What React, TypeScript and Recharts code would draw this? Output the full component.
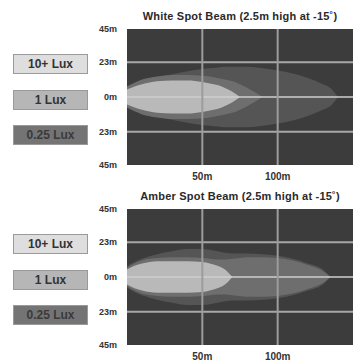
import React from "react";
import {
  Area,
  CartesianGrid,
  ComposedChart,
  ReferenceLine,
  XAxis,
  YAxis,
} from "recharts";

// distance from the lamp (m) and half-width of each lux contour (m)
const distances = [0, 5, 10, 20, 30, 40, 50, 55, 60, 65, 70, 75, 80, 90, 100, 110, 120, 130, 135, 140, 145, 150];

const whiteQuarterLux = [6, 8, 10, 13, 15, 17, 18.5, 19, 19.5, 20, 20, 20, 20, 19, 17.5, 15.5, 12.5, 8.5, 6, 0, null, null];
const whiteOneLux = [7, 9.5, 11.5, 13.5, 14.5, 14.5, 14, 13.5, 12.5, 11.5, 10.5, 8.5, 6, 0, null, null, null, null, null, null, null, null];
const whiteTenLux = [5, 7, 8.5, 10.5, 11, 11, 10, 9, 8, 6, 3.5, 0, null, null, null, null, null, null, null, null, null, null];

const amberQuarterLux = [7, 10, 12, 15, 17, 18.5, 18.5, 18, 17, 16, 15.5, 15.5, 15.5, 15, 14, 12, 9, 5, 0, null, null, null];
const amberOneLux = [6, 9, 11, 12.5, 13, 13, 12.5, 12, 11.5, 11.5, 12, 12.5, 13, 13, 12.5, 11, 8, 4, 0, null, null, null];
const amberTenLux = [5, 7.5, 9, 10.5, 10.5, 10.5, 10, 9, 7.5, 5, 0, null, null, null, null, null, null, null, null, null, null, null];

const xTicks = [50, 100];
const yTicks = [-45, -23, 0, 23, 45];
const legendLabels = ["10+ Lux", "1 Lux", "0.25 Lux"];

const FONT = '"Liberation Sans", Arial, sans-serif';
const LEVEL_FILL = ["#b9b9b9", "#6e6e6e", "#555555"];
const LEGEND_FILL = ["#dedede", "#b6b6b6", "#747474"];

type Half = (number | null)[];

function band(v: number | null) {
  return v == null ? null : [-v, v];
}

function BeamPanel({
  title,
  quarter,
  one,
  ten,
  top,
  titleTop,
}: {
  title: string;
  quarter: Half;
  one: Half;
  ten: Half;
  top: number;
  titleTop: number;
}) {
  const rows = distances.map((d, i) => ({
    d,
    quarter: band(quarter[i]),
    one: band(one[i]),
    ten: band(ten[i]),
  }));

  return (
    <div style={{ position: "absolute", left: 0, top, width: 359, height: 181 }}>
      <div
        style={{
          position: "absolute",
          left: 127,
          width: 226,
          top: titleTop,
          textAlign: "center",
          fontSize: 11,
          fontWeight: "bold",
          letterSpacing: 0.2,
          color: "#2a2a2a",
          whiteSpace: "nowrap",
        }}
      >
        {title}
      </div>
      {legendLabels.map((label, i) => (
        <div
          key={label}
          style={{
            position: "absolute",
            left: 13,
            top: 54 + i * 35.5,
            width: 73,
            height: 18,
            lineHeight: "18px",
            background: LEGEND_FILL[i],
            border: "1px solid #9a9a9a",
            textAlign: "center",
            fontSize: 12,
            fontWeight: "bold",
            color: i === 2 ? "#3a3a3a" : "#333",
          }}
        >
          {label}
        </div>
      ))}
      <ComposedChart
        width={359}
        height={181}
        data={rows}
        margin={{ top: 29, right: 6, bottom: 0, left: 0 }}
      >
        <CartesianGrid fill="#3c3c3c" horizontal={false} vertical={false} />
        <XAxis
          type="number"
          dataKey="d"
          domain={[0, 150]}
          ticks={xTicks}
          tickFormatter={(v) => `${v}m`}
          axisLine={false}
          tickLine={false}
          tick={{ fill: "#333", fontSize: 10, fontWeight: "bold" }}
          tickMargin={2}
          height={16}
          allowDataOverflow
        />
        <YAxis
          type="number"
          domain={[-45, 45]}
          ticks={yTicks}
          tickFormatter={(v) => `${Math.abs(v)}m`}
          axisLine={false}
          tickLine={false}
          tick={{ fill: "#333", fontSize: 9, fontWeight: "bold" }}
          tickMargin={4}
          width={127}
          allowDataOverflow
        />
        <Area type="monotone" dataKey="quarter" stroke="none" fill={LEVEL_FILL[2]} fillOpacity={1} isAnimationActive={false} activeDot={false} />
        <Area type="monotone" dataKey="one" stroke="none" fill={LEVEL_FILL[1]} fillOpacity={1} isAnimationActive={false} activeDot={false} />
        <Area type="monotone" dataKey="ten" stroke="none" fill={LEVEL_FILL[0]} fillOpacity={1} isAnimationActive={false} activeDot={false} />
        <ReferenceLine y={23} stroke="#a8a8a8" strokeWidth={2} />
        <ReferenceLine y={-23} stroke="#a8a8a8" strokeWidth={2} />
        <ReferenceLine y={0} stroke="#cfcfcf" strokeWidth={1.5} />
        <ReferenceLine x={50} stroke="#9c9c9c" strokeWidth={2} />
        <ReferenceLine x={100} stroke="#9c9c9c" strokeWidth={2} />
      </ComposedChart>
    </div>
  );
}

export default function App() {
  return (
    <div
      style={{
        position: "absolute",
        left: 0,
        top: 0,
        width: 359,
        height: 363,
        background: "#fff",
        fontFamily: FONT,
      }}
    >
      <BeamPanel
        title="White Spot Beam (2.5m high at -15˚)"
        quarter={whiteQuarterLux}
        one={whiteOneLux}
        ten={whiteTenLux}
        top={0}
        titleTop={10}
      />
      <BeamPanel
        title="Amber Spot Beam (2.5m high at -15˚)"
        quarter={amberQuarterLux}
        one={amberOneLux}
        ten={amberTenLux}
        top={180}
        titleTop={10}
      />
    </div>
  );
}
